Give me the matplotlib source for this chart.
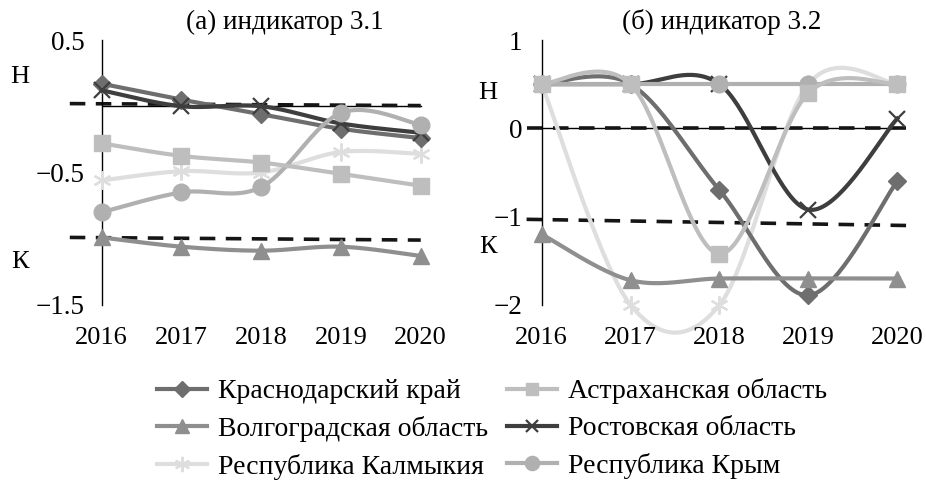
import numpy as np
import matplotlib
matplotlib.use('Agg')
import matplotlib.pyplot as plt

plt.rcParams['font.family'] = 'serif'
plt.rcParams['font.serif'] = ['Liberation Serif', 'DejaVu Serif']
plt.rcParams['font.size'] = 19
FONT = 'Liberation Serif'

# data
years = [2016, 2017, 2018, 2019, 2020]
names = ['Краснодарский край', 'Астраханская область', 'Волгоградская область',
         'Ростовская область', 'Республика Калмыкия', 'Республика Крым']

ind31 = {
    'Краснодарский край':    [0.17, 0.05, -0.06, -0.17, -0.24],
    'Астраханская область':  [-0.28, -0.375, -0.425, -0.51, -0.60],
    'Волгоградская область': [-0.99, -1.06, -1.09, -1.06, -1.13],
    'Ростовская область':    [0.12, 0.0, 0.0, -0.13, -0.20],
    'Республика Калмыкия':   [-0.56, -0.49, -0.50, -0.345, -0.36],
    'Республика Крым':       [-0.80, -0.65, -0.61, -0.05, -0.14],
}
ind32 = {
    'Краснодарский край':    [0.5, 0.5, -0.70, -1.89, -0.60],
    'Астраханская область':  [0.5, 0.5, -1.42, 0.40, 0.5],
    'Волгоградская область': [-1.20, -1.72, -1.70, -1.70, -1.70],
    'Ростовская область':    [0.5, 0.5, 0.5, -0.92, 0.11],
    'Республика Калмыкия':   [0.5, -2.0, -2.0, 0.5, 0.5],
    'Республика Крым':       [0.5, 0.5, 0.5, 0.5, 0.5],
}

# threshold lines (H and K levels)
lvl31_x = [2015.6, 2020.0]
lvl31_h = [0.02, 0.005]
lvl31_k = [-0.99, -1.01]
lvl32_x = [2015.83, 2020.1]
lvl32_h = [0.0, 0.0]
lvl32_k = [-1.03, -1.10]

style = {
    'Краснодарский край':    dict(color='#6e6e6e', marker='D', ms=9),
    'Астраханская область':  dict(color='#bebebe', marker='s', ms=11),
    'Волгоградская область': dict(color='#8f8f8f', marker='^', ms=12),
    'Ростовская область':    dict(color='#3e3e3e', marker='x', ms=11, mew=1.6),
    'Республика Калмыкия':   dict(color='#dedede', marker=(6, 2, 0), ms=13, mew=1.6),
    'Республика Крым':       dict(color='#b0b0b0', marker='o', ms=12),
}
draw_order = ['Республика Калмыкия', 'Краснодарский край', 'Волгоградская область',
              'Ростовская область', 'Республика Крым', 'Астраханская область']


def smooth(x, y, n=40):
    # Excel-like smoothed line (Catmull-Rom through the points)
    p = np.column_stack([x, y]).astype(float)
    pp = np.vstack([p[0], p, p[-1]])
    out = []
    for i in range(len(p) - 1):
        p0, p1, p2, p3 = pp[i], pp[i + 1], pp[i + 2], pp[i + 3]
        c1 = p1 + (p2 - p0) / 6
        c2 = p2 - (p3 - p1) / 6
        t = np.linspace(0, 1, n)[:, None]
        seg = (1 - t)**3 * p1 + 3 * (1 - t)**2 * t * c1 + 3 * (1 - t) * t**2 * c2 + t**3 * p2
        out.append(seg if i == 0 else seg[1:])
    out = np.vstack(out)
    return out[:, 0], out[:, 1]


fig = plt.figure(figsize=(9.26, 4.84), dpi=100)
W, H = 926, 484


def make_ax(left_px, right_px, top_px, bot_px):
    return fig.add_axes([left_px / W, 1 - bot_px / H, (right_px - left_px) / W, (bot_px - top_px) / H])


axL = make_ax(101.7, 432.7, 40, 305)
axR = make_ax(541.7, 910.6, 40, 305)

panels = [
    (axL, ind31, (-1.5, 0.5), [0.5, -0.5, -1.5], ['0.5', '\u22120.5', '\u22121.5'],
     lvl31_x, lvl31_h, lvl31_k, 12, '(а) индикатор 3.1', 285),
    (axR, ind32, (-2, 1), [1, 0, -1, -2], ['1', '0', '\u22121', '\u22122'],
     lvl32_x, lvl32_h, lvl32_k, 14, '(б) индикатор 3.2', 722),
]

for ax, data, ylim, yt, ytl, lx, lh, lk, pad, title, tx in panels:
    ax.set_xlim(2016, 2020.15)
    ax.set_ylim(*ylim)
    for s in ['top', 'right', 'bottom']:
        ax.spines[s].set_visible(False)
    ax.spines['left'].set_linewidth(1.0)
    ax.axhline(0, xmin=0, xmax=4 / 4.15, color='black', lw=1.0, zorder=1)
    ax.set_yticks(yt)
    ax.set_yticklabels(ytl, family=FONT, fontsize=19.5)
    ax.set_xticks([])
    ax.tick_params(axis='y', length=0, pad=pad)
    ax.plot(lx, lh, color='#151515', lw=2.6, dashes=(4.3, 2.9), clip_on=False, zorder=2)
    ax.plot(lx, lk, color='#151515', lw=2.6, dashes=(4.3, 2.9), clip_on=False, zorder=2)
    for k, name in enumerate(draw_order):
        st = style[name]
        sx, sy = smooth(years, data[name])
        ax.plot(sx, sy, color=st['color'], lw=3, clip_on=False, zorder=3 + k)
        ax.plot(years, data[name], ls='none', marker=st['marker'], ms=st['ms'],
                color=st['color'], mew=st.get('mew', 1), clip_on=False, zorder=3 + k)
    for yr in years:
        ax.text(yr, -0.125, str(yr), transform=ax.get_xaxis_transform(),
                ha='center', va='center', fontsize=19, family=FONT)
    fig.text(tx / W, 1 - 22 / H, title, ha='center', va='center', fontsize=19.5, family=FONT)

# level letters
for x, y, s in [(20, 77, 'Н'), (20, 262, 'К'), (488, 93, 'Н'), (488, 247, 'К')]:
    fig.text(x / W, 1 - y / H, s, ha='center', va='center', fontsize=19, family=FONT)

# legend
leg_order = ['Краснодарский край', 'Волгоградская область', 'Республика Калмыкия',
             'Астраханская область', 'Ростовская область', 'Республика Крым']
handles = []
for name in leg_order:
    st = style[name]
    h, = axL.plot([], [], color=st['color'], lw=3, marker=st['marker'],
                  ms=st['ms'] * 0.85, mew=st.get('mew', 1))
    handles.append(h)
fig.legend(handles, leg_order, loc='center', bbox_to_anchor=(492 / W, 1 - 429 / H),
           ncol=2, frameon=False, prop={'family': FONT, 'size': 20},
           handlelength=1.8, handletextpad=0.4, columnspacing=0.7, labelspacing=0.42)

plt.savefig('out.png', dpi=100)
